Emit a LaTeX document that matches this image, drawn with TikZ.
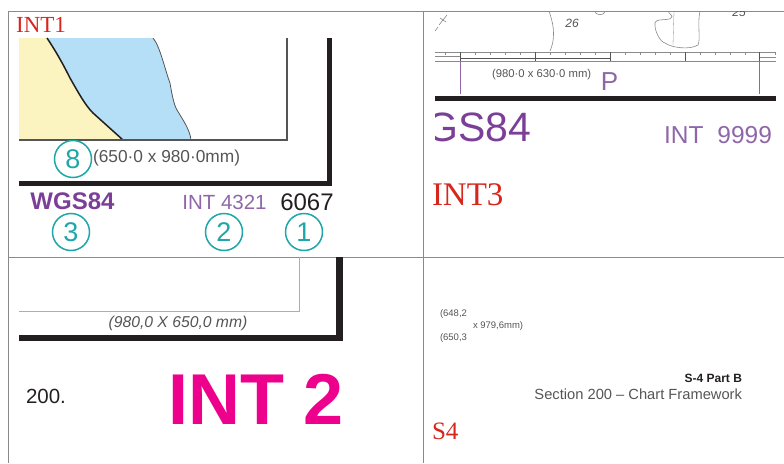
\documentclass[tikz,border=0pt]{standalone}
\usepackage{fontspec}
\setmainfont{Liberation Sans}
\newfontfamily\serifface{Liberation Serif}
\definecolor{tealring}{HTML}{1FA6A8}
\definecolor{chartpurple}{HTML}{7B3F98}
\definecolor{lightpurple}{HTML}{8F67A9}
\definecolor{intred}{HTML}{D7261E}
\definecolor{intpink}{HTML}{EC008C}
\definecolor{landyellow}{HTML}{FBF3C0}
\definecolor{seablue}{HTML}{B5DFF7}
\definecolor{framegrey}{HTML}{8A8A8A}
\definecolor{textgrey}{HTML}{555555}
\definecolor{nearblack}{HTML}{231F20}
\newcommand{\fsize}[1]{\fontsize{#1}{#1}\selectfont}

\begin{document}
\begin{tikzpicture}
	[x=1pt,y=-1pt,
	every node/.style={inner sep=0pt,outer sep=0pt},
	ring/.style={circle,draw=tealring,line width=1.5pt,minimum size=37pt,text=tealring,font=\fsize{27}},
	tag/.style={text=intred,font=\serifface\fsize{#1}},
	thickline/.style={line width=5pt,draw=nearblack,line cap=butt,line join=miter},
	gridline/.style={line width=.8pt,draw=framegrey},
	thinchart/.style={line width=.6pt,draw=framegrey}]
	\useasboundingbox (0,0) rectangle (784,463);
	
	% grid of the four panels
	\draw[gridline] (8,463) -- (8,11) -- (784,11);
	\draw[gridline] (423,11) -- (423,463);
	\draw[gridline] (8,257) -- (784,257);
	
	% panel INT1
	\fill[landyellow] (19,38) -- (47,38) .. controls (55,50) and (62,62) .. (70,78) .. controls (78,92) and (85,105) .. (93,113) .. controls (103,122) and (113,131) .. (123,140) -- (19,140) -- cycle;
	\fill[seablue] (47,38) -- (153,38) .. controls (160,46) and (165,70) .. (170,83) .. controls (172,95) and (174,105) .. (177,110) .. controls (183,120) and (190,130) .. (191,140) -- (123,140) .. controls (113,131) and (103,122) .. (93,113) .. controls (85,105) and (78,92) .. (70,78) .. controls (62,62) and (55,50) .. (47,38) -- cycle;
	\draw[line width=1.5pt,draw=nearblack] (47,38) .. controls (55,50) and (62,62) .. (70,78) .. controls (78,92) and (85,105) .. (93,113) .. controls (103,122) and (113,131) .. (123,140);
	\draw[line width=.8pt,draw=textgrey] (153,38) .. controls (160,46) and (165,70) .. (170,83) .. controls (172,95) and (174,105) .. (177,110) .. controls (183,120) and (190,130) .. (191,140);
	\draw[line width=1.4pt,draw=textgrey] (19,140) -- (287,140) -- (287,38);
	\draw[thickline] (19,183) -- (329.5,183) -- (329.5,38);
	\node[tag=23] (int1) at (41,25) {INT1};
	\node[ring] (c8) at (73,159) {8};
	\node[text=textgrey,anchor=west,font=\fsize{17.3}] (size1) at (93,158.5) {(650·0 x 980·0mm)};
	\node[text=chartpurple,font=\bfseries\fsize{24}] (wgs1) at (72.5,201) {WGS84};
	\node[text=lightpurple,font=\fsize{20.5}] (int4321) at (224.5,202) {INT 4321};
	\node[text=nearblack,font=\fsize{24}] (n6067) at (307,202) {6067};
	\node[ring] (c3) at (71,232) {3};
	\node[ring] (c2) at (224,232) {2};
	\node[ring] (c1) at (304,232) {1};
	
	% panel INT3
	\draw[thinchart] (549,11) .. controls (552,20) and (557,35) .. (550,51);
	\draw[thinchart] (595,12) .. controls (596,15) and (603,16) .. (605,12);
	\draw[thinchart] (668,11) .. controls (669,14) and (674,16) .. (671,18) .. controls (668,21) and (656,18) .. (655,23) .. controls (654,30) and (660,42) .. (665,43) .. controls (672,48) and (690,50) .. (698,45) .. controls (701,38) and (697,25) .. (700,11);
	\draw[line width=.3pt,draw=framegrey] (674,11) -- (673,45);
	\draw[thinchart] (447,15) -- (439,25);
	\draw[thinchart] (438,27) -- (435,31);
	\draw[thinchart] (440,18) -- (446,22);
	\node[text=textgrey,font=\itshape\fsize{12}] (d26) at (572,23) {26};
	\begin{scope}
		\clip (600,11.5) rectangle (784,40);
		\node[text=textgrey,font=\itshape\fsize{12}] (d25) at (739,12) {25};
	\end{scope}
	\draw[thinchart] (435,52) -- (776,52);
	\draw[thinchart] (435,56.5) -- (460,56.5);
	\draw[thinchart] (435,61) -- (776,61);
	\draw[line width=.9pt,draw=textgrey] (460,58.5) -- (610,58.5);
	\draw[thinchart] (759,57) -- (776,57);
	\foreach \x in {460,535,610,685,759}
		\draw[line width=.7pt,draw=textgrey] (\x,52) -- (\x,61);
	\foreach \x in {445,475,490,505,520,550,565,580,595,625,640,655,670,700,715,730,745,775}
		\draw[thinchart] (\x,52) -- (\x,55);
	\draw[line width=.8pt,draw=lightpurple] (460,61) -- (460,94);
	\draw[line width=.8pt,draw=lightpurple] (759,61) -- (759,94);
	\draw[thickline] (435,98.5) -- (776,98.5);
	\node[text=textgrey,anchor=west,font=\fsize{11.3}] (size3) at (492,75) {(980·0 x 630·0 mm)};
	\node[text=lightpurple,font=\fsize{26}] (pmark) at (609.5,82) {P};
	\begin{scope}
		\clip (435,100) rectangle (560,160);
		\node[text=chartpurple,anchor=east,font=\fsize{41}] (wgs3) at (531,127) {GS84};
	\end{scope}
	\node[text=lightpurple,anchor=east,font=\fsize{24.5}] (int9999) at (772,135) {INT\hspace{14pt}9999};
	\node[tag=33,anchor=west] (int3) at (432,195) {INT3};
	
	% panel INT2
	\draw[line width=.7pt,draw=framegrey!70] (19,311) -- (299,311) -- (299,257);
	\draw[line width=6.5pt,draw=nearblack] (19,338) -- (339.5,338) -- (339.5,257);
	\node[text=textgrey,font=\itshape\fsize{15.7}] (size2) at (178,323) {(980,0 X 650,0 mm)};
	\node[text=nearblack,anchor=west,font=\fsize{20.5}] (n200) at (26,396) {200.};
	\node[text=intpink,anchor=west,font=\bfseries\fsize{72}] (int2) at (168,399.5) {INT 2};
	
	% panel S4
	\node[text=textgrey,anchor=west,font=\fsize{9.5}] (size4a) at (440,314) {(648,2};
	\node[text=textgrey,anchor=west,font=\fsize{9.5}] (size4b) at (440,338) {(650,3};
	\node[text=textgrey,anchor=west,font=\fsize{9.5}] (size4c) at (473,326) {x 979,6mm)};
	\node[text=nearblack,anchor=east,font=\bfseries\fsize{12}] (partb) at (742,378) {S-4 Part B};
	\node[text=textgrey,anchor=east,font=\fsize{14.7}] (section) at (742,394) {Section 200 – Chart Framework};
	\node[tag=25,anchor=west] (s4) at (432,431) {S4};
\end{tikzpicture}
\end{document}
